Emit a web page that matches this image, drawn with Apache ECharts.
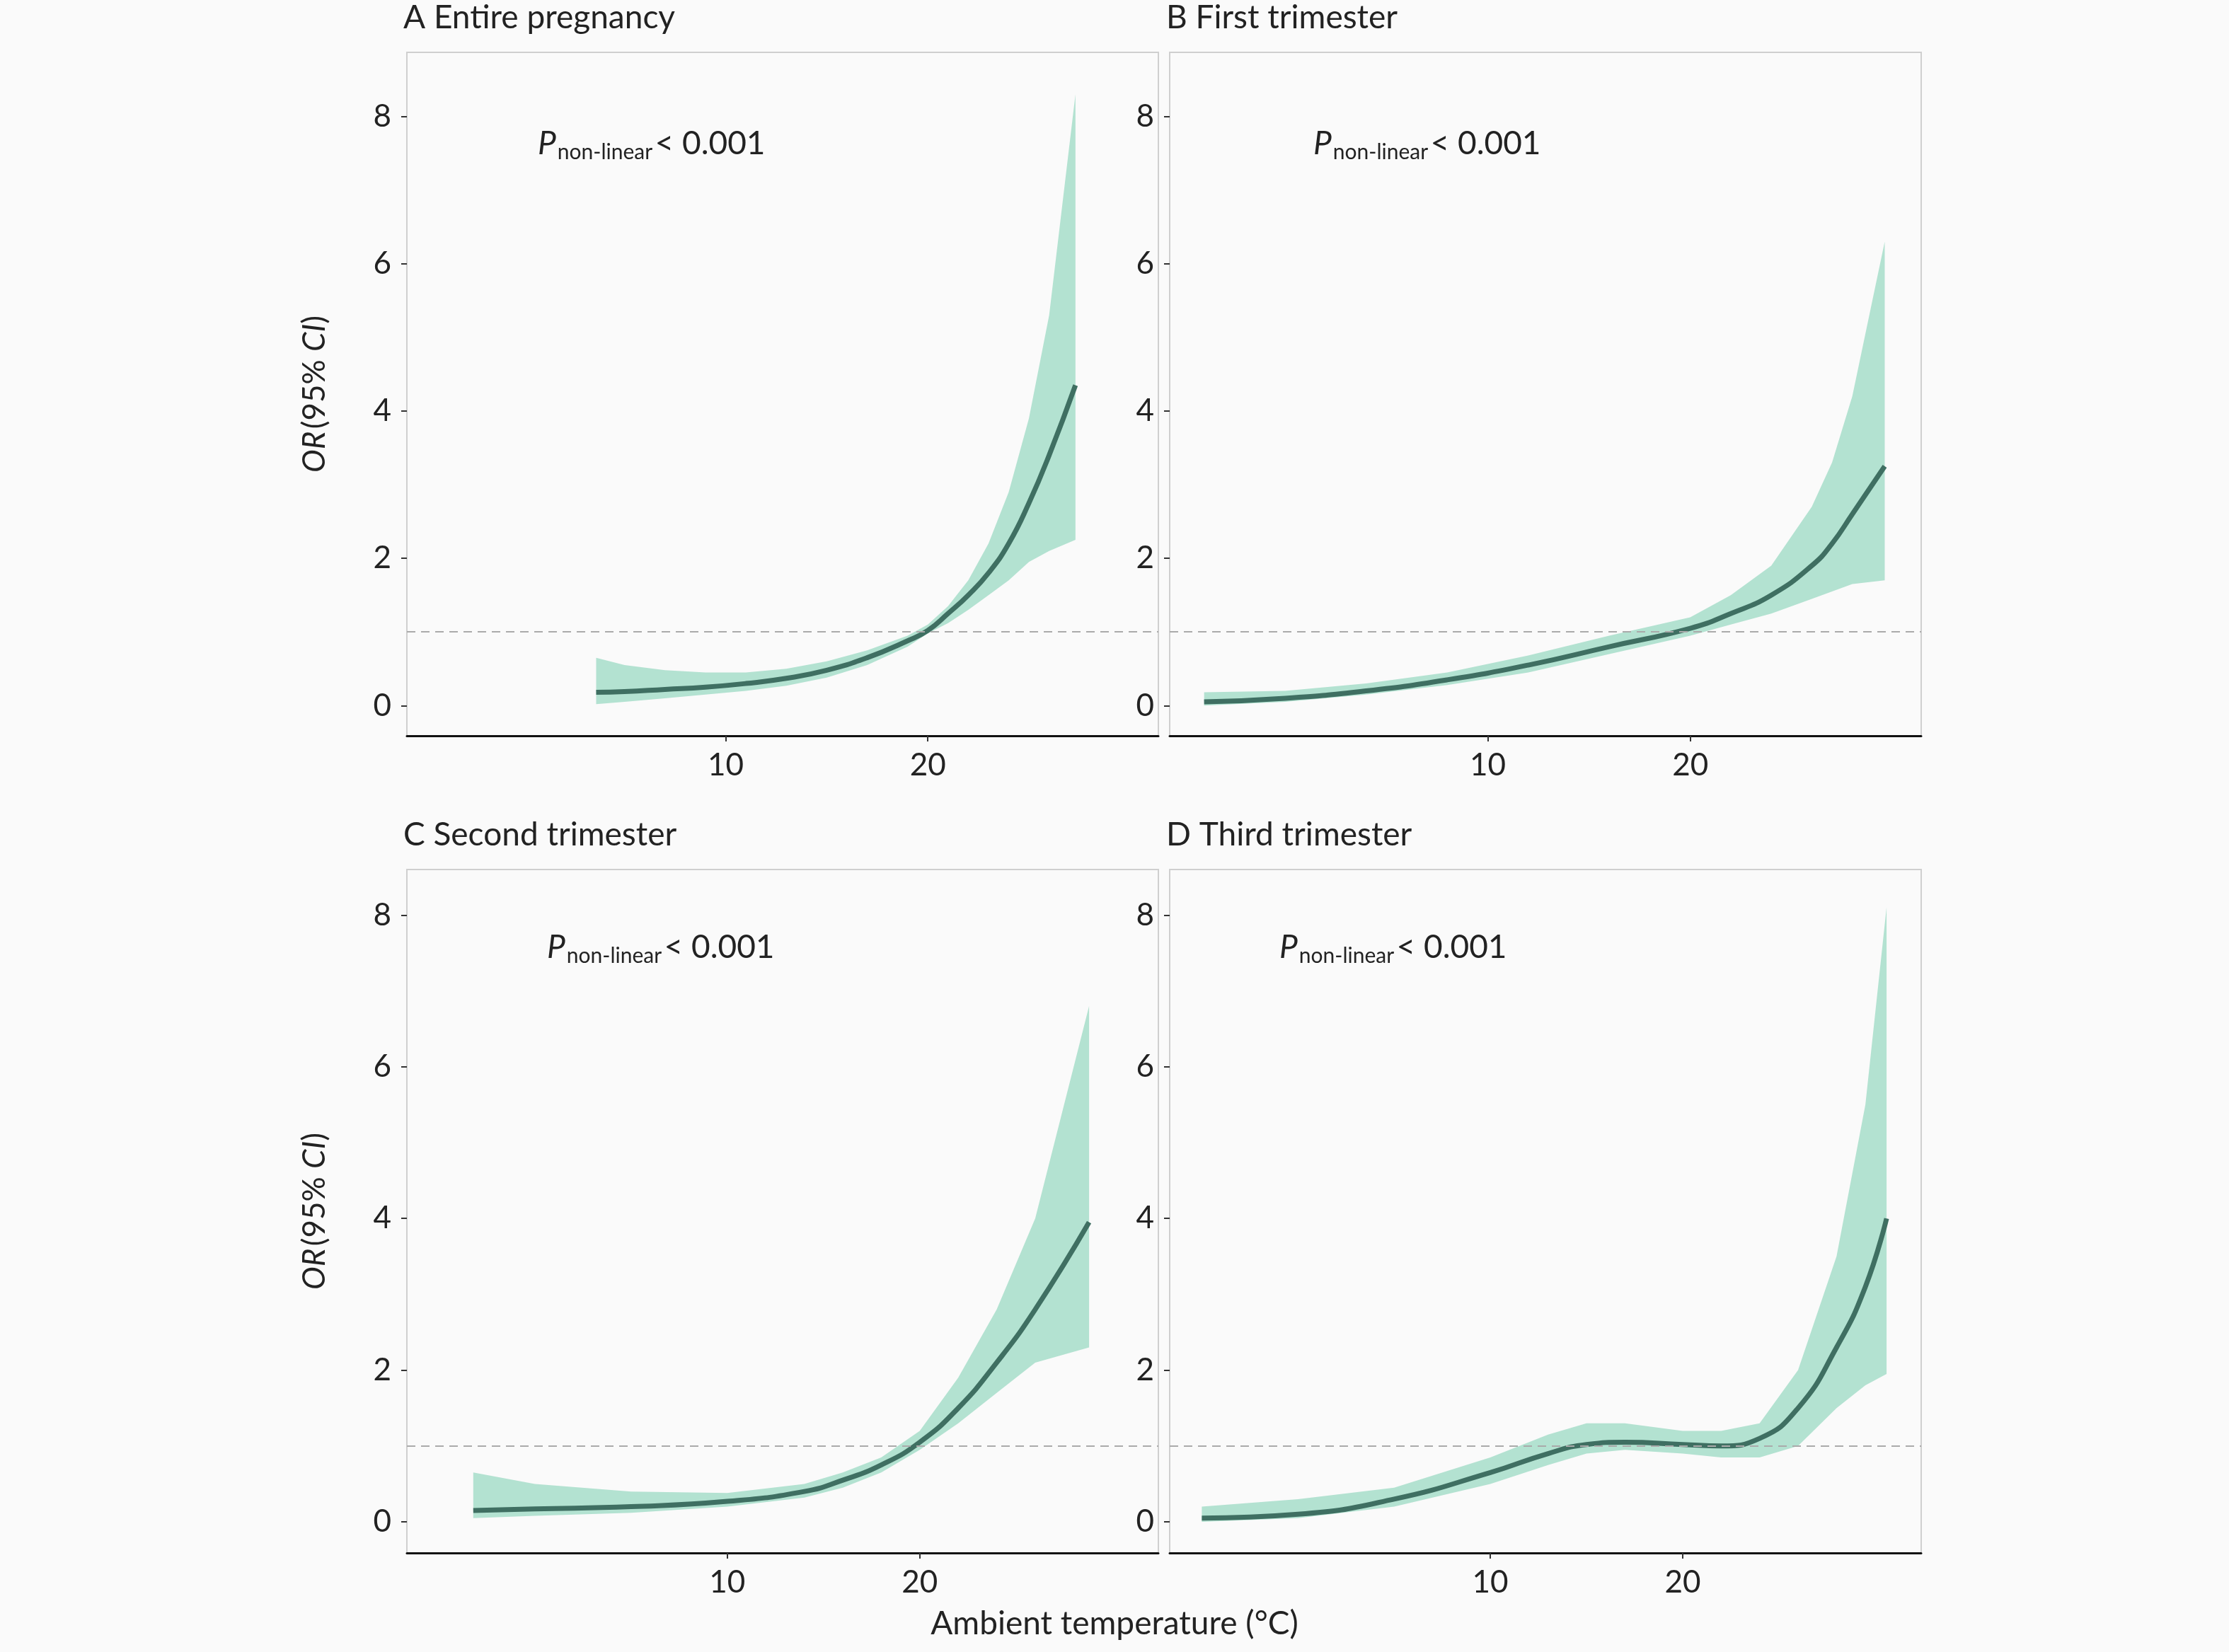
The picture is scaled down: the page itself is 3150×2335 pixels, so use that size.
<!DOCTYPE html>
<html>
<head>
<meta charset="utf-8">
<script src="https://cdn.jsdelivr.net/npm/echarts@6/dist/echarts.min.js"></script>
<style>
  html, body { margin: 0; padding: 0; background: #fafafa; }
  #chart { width: 3150px; height: 2335px; }
</style>
</head>
<body>
<div id="chart"></div>
<script>
// 数据：四个时期的 OR 曲线及 95% CI
const titles = ['A Entire pregnancy', 'B First trimester', 'C Second trimester', 'D Third trimester'];

const xA = [3.6, 5, 7, 9, 11, 13, 15, 17, 19, 20, 21, 22, 23, 24, 25, 26, 27.3];
const meanA = [0.18, 0.19, 0.22, 0.25, 0.3, 0.37, 0.48, 0.65, 0.88, 1.02, 1.25, 1.5, 1.8, 2.2, 2.75, 3.4, 4.35];
const lowA = [0.02, 0.05, 0.1, 0.15, 0.2, 0.27, 0.38, 0.55, 0.8, 0.98, 1.12, 1.3, 1.5, 1.7, 1.95, 2.1, 2.25];
const upA = [0.65, 0.55, 0.48, 0.45, 0.45, 0.5, 0.6, 0.75, 0.95, 1.1, 1.35, 1.7, 2.2, 2.9, 3.9, 5.3, 8.3];

const xB = [-4, 0, 4, 8, 12, 16, 20, 22, 24, 26, 27, 28, 29.6];
const meanB = [0.05, 0.1, 0.2, 0.35, 0.55, 0.8, 1.05, 1.25, 1.5, 1.9, 2.2, 2.6, 3.25];
const lowB = [0.0, 0.05, 0.15, 0.28, 0.45, 0.7, 0.95, 1.1, 1.25, 1.45, 1.55, 1.65, 1.7];
const upB = [0.18, 0.2, 0.3, 0.45, 0.68, 0.95, 1.2, 1.5, 1.9, 2.7, 3.3, 4.2, 6.3];

const xC = [-3.2, 0, 5, 10, 14, 16, 18, 20, 22, 24, 26, 28.8];
const meanC = [0.15, 0.17, 0.2, 0.27, 0.4, 0.55, 0.75, 1.05, 1.5, 2.1, 2.8, 3.95];
const lowC = [0.05, 0.08, 0.12, 0.2, 0.32, 0.45, 0.65, 0.95, 1.3, 1.7, 2.1, 2.3];
const upC = [0.65, 0.5, 0.4, 0.38, 0.5, 0.65, 0.85, 1.2, 1.9, 2.8, 4.0, 6.8];

const xD = [-5, 0, 5, 10, 13, 15, 17, 20, 22, 24, 26, 28, 29.5, 30.6];
const meanD = [0.05, 0.1, 0.3, 0.65, 0.9, 1.02, 1.05, 1.02, 1.0, 1.1, 1.5, 2.3, 3.1, 4.0];
const lowD = [0.0, 0.05, 0.2, 0.5, 0.75, 0.9, 0.95, 0.9, 0.85, 0.85, 1.0, 1.5, 1.8, 1.95];
const upD = [0.2, 0.3, 0.45, 0.85, 1.15, 1.3, 1.3, 1.2, 1.2, 1.3, 2.0, 3.5, 5.5, 8.1];

const yTicks = [0, 2, 4, 6, 8];
const xTicks = [0, 10, 20, 30];

const panels = [
  { x: xA, mean: meanA, low: lowA, up: upA, grid: { left: 575, top: 74 }, xr: [-5.76, 31.4], yr: [-0.41, 8.87] },
  { x: xB, mean: meanB, low: lowB, up: upB, grid: { left: 1653, top: 74 }, xr: [-5.7, 31.4], yr: [-0.41, 8.87] },
  { x: xC, mean: meanC, low: lowC, up: upC, grid: { left: 575, top: 1229 }, xr: [-6.65, 32.4], yr: [-0.41, 8.6] },
  { x: xD, mean: meanD, low: lowD, up: upD, grid: { left: 1653, top: 1229 }, xr: [-6.67, 32.4], yr: [-0.41, 8.6] }
];

const FONT = 'Lato';
const grids = [], xAxes = [], yAxes = [], series = [], graphics = [];

panels.forEach((p, i) => {
  grids.push({
    left: p.grid.left, top: p.grid.top, width: 1062, height: 966,
    show: true, borderColor: '#cfcfcf', borderWidth: 2, backgroundColor: 'transparent'
  });
  xAxes.push({
    type: 'value', gridIndex: i, min: p.xr[0], max: p.xr[1],
    splitLine: { show: false },
    axisLine: { show: true, onZero: false, lineStyle: { color: '#111', width: 3 } },
    axisTick: { show: true, length: 8, lineStyle: { color: '#333', width: 2 },
      customValues: xTicks },
    axisLabel: { fontSize: 44, color: '#222', fontFamily: FONT, margin: 20,
      customValues: xTicks, showMinLabel: false, showMaxLabel: false },
    name: i === 3 ? 'Ambient temperature (°C)' : '',
    nameLocation: 'middle', nameGap: 0
  });
  yAxes.push({
    type: 'value', gridIndex: i, min: p.yr[0], max: p.yr[1],
    splitLine: { show: false },
    axisLine: { show: true, onZero: false, lineStyle: { color: '#cfcfcf', width: 2 } },
    axisTick: { show: true, length: 8, lineStyle: { color: '#333', width: 2 }, customValues: yTicks },
    axisLabel: { fontSize: 44, color: '#222', fontFamily: FONT, margin: 22, customValues: yTicks },
    name: (i % 2 === 0) ? '{i|OR} {n|(95% }{i|CI}{n|)}' : '',
    nameLocation: 'middle', nameGap: 108, nameRotate: 90,
    nameTextStyle: {
      rich: {
        i: { fontStyle: 'italic', fontSize: 44, fontFamily: FONT, color: '#222' },
        n: { fontSize: 44, fontFamily: FONT, color: '#222' }
      }
    }
  });

  const band = p.x.map((x, k) => [x, p.low[k], p.up[k]]);
  series.push({
    type: 'custom', xAxisIndex: i, yAxisIndex: i, data: band,
    renderItem: function (params, api) {
      if (params.dataIndex !== 0) return;
      const upper = band.map(d => api.coord([d[0], d[2]]));
      const lower = band.map(d => api.coord([d[0], d[1]])).reverse();
      return {
        type: 'polygon', shape: { points: upper.concat(lower) },
        style: { fill: 'rgba(120, 205, 175, 0.55)', stroke: 'none' }
      };
    },
    silent: true, z: 1
  });
  series.push({
    type: 'line', xAxisIndex: i, yAxisIndex: i, smooth: true, showSymbol: false,
    data: p.x.map((x, k) => [x, p.mean[k]]),
    lineStyle: { color: '#3f6f62', width: 7 },
    markLine: {
      silent: true, symbol: 'none', label: { show: false },
      lineStyle: { color: '#aaaaaa', type: [12, 8], width: 2 },
      data: [{ yAxis: 1 }]
    },
    z: 3
  });

  graphics.push({
    type: 'text', left: p.grid.left - 5, top: p.grid.top - 72,
    style: { text: titles[i], fontSize: 46, fontFamily: FONT, fill: '#222' }
  });
});

const pPos = [[760, 180], [1856, 180], [773, 1316], [1808, 1316]];
pPos.forEach(pp => {
  graphics.push({
    type: 'text', left: pp[0], top: pp[1],
    style: {
      text: '{p|P}{s|non-linear} {n|< 0.001}',
      rich: {
        p: { fontStyle: 'italic', fontSize: 46, fontFamily: FONT, fill: '#222' },
        s: { fontSize: 30, fontFamily: FONT, fill: '#222', padding: [24, 0, 0, 2] },
        n: { fontSize: 46, fontFamily: FONT, fill: '#222' }
      }
    }
  });
});

graphics.push({
  type: 'text', left: 'center', top: 2272,
  style: { text: 'Ambient temperature (°C)', fontSize: 46, fontFamily: FONT, fill: '#222' }
});

const chart = echarts.init(document.getElementById('chart'));
chart.setOption({
  backgroundColor: '#fafafa',
  animation: false,
  grid: grids,
  xAxis: xAxes.map(a => Object.assign(a, { name: '' })),
  yAxis: yAxes,
  series: series,
  graphic: graphics
});
</script>
</body>
</html>
